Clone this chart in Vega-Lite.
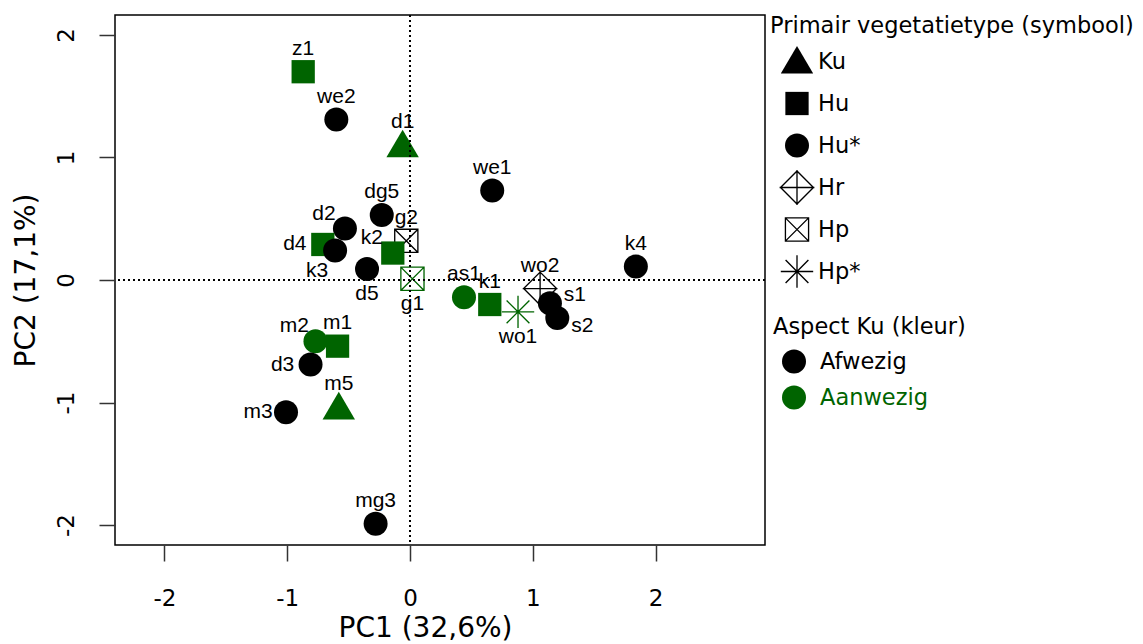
{
  "$schema": "https://vega.github.io/schema/vega-lite/v6.json",
  "width": 650,
  "height": 530,
  "autosize": {"type": "none"},
  "padding": {"left": 115, "top": 15, "right": 378, "bottom": 99},
  "background": "white",
  "config": {
    "view": {"stroke": "black", "strokeWidth": 1.5},
    "axis": {
      "grid": false,
      "domain": false,
      "tickSize": 16,
      "tickColor": "#333333",
      "tickWidth": 1.5,
      "labelFont": "DejaVu Sans",
      "labelFontSize": 23,
      "labelColor": "black",
      "titleFont": "DejaVu Sans",
      "titleFontSize": 28,
      "titleFontWeight": "normal",
      "titleColor": "black"
    },
    "legend": {
      "orient": "none",
      "padding": 0,
      "gridAlign": "all",
      "titleFont": "DejaVu Sans",
      "titleFontSize": 22.5,
      "titleFontWeight": "normal",
      "titleColor": "black",
      "labelFont": "DejaVu Sans",
      "labelFontSize": 22.5,
      "labelColor": "black",
      "symbolSize": 576,
      "symbolOpacity": 1,
      "labelLimit": 400,
      "titleLimit": 500
    }
  },
  "data": {
    "values": [
      {"id": "z1", "pc1": -0.87, "pc2": 1.70, "type": "Hu", "aspect": "Aanwezig", "pos": "top"},
      {"id": "we2", "pc1": -0.60, "pc2": 1.31, "type": "Hu*", "aspect": "Afwezig", "pos": "top"},
      {"id": "d1", "pc1": -0.06, "pc2": 1.10, "type": "Ku", "aspect": "Aanwezig", "pos": "top"},
      {"id": "we1", "pc1": 0.67, "pc2": 0.73, "type": "Hu*", "aspect": "Afwezig", "pos": "top"},
      {"id": "dg5", "pc1": -0.23, "pc2": 0.53, "type": "Hu*", "aspect": "Afwezig", "pos": "top"},
      {"id": "d2", "pc1": -0.53, "pc2": 0.42, "type": "Hu*", "aspect": "Afwezig", "pos": "topleft"},
      {"id": "g2", "pc1": -0.03, "pc2": 0.32, "type": "Hp", "aspect": "Afwezig", "pos": "top"},
      {"id": "d4", "pc1": -0.71, "pc2": 0.29, "type": "Hu", "aspect": "Aanwezig", "pos": "left"},
      {"id": "k3", "pc1": -0.61, "pc2": 0.24, "type": "Hu*", "aspect": "Afwezig", "pos": "bottomleft"},
      {"id": "k2", "pc1": -0.14, "pc2": 0.22, "type": "Hu", "aspect": "Aanwezig", "pos": "topleft"},
      {"id": "d5", "pc1": -0.35, "pc2": 0.09, "type": "Hu*", "aspect": "Afwezig", "pos": "bottom"},
      {"id": "g1", "pc1": 0.02, "pc2": 0.01, "type": "Hp", "aspect": "Aanwezig", "pos": "bottom"},
      {"id": "k4", "pc1": 1.84, "pc2": 0.11, "type": "Hu*", "aspect": "Afwezig", "pos": "top"},
      {"id": "wo2", "pc1": 1.06, "pc2": -0.07, "type": "Hr", "aspect": "Afwezig", "pos": "top"},
      {"id": "as1", "pc1": 0.44, "pc2": -0.14, "type": "Hu*", "aspect": "Aanwezig", "pos": "top"},
      {"id": "k1", "pc1": 0.65, "pc2": -0.20, "type": "Hu", "aspect": "Aanwezig", "pos": "top"},
      {"id": "wo1", "pc1": 0.88, "pc2": -0.26, "type": "Hp*", "aspect": "Aanwezig", "pos": "bottom"},
      {"id": "s1", "pc1": 1.14, "pc2": -0.19, "type": "Hu*", "aspect": "Afwezig", "pos": "topright"},
      {"id": "s2", "pc1": 1.20, "pc2": -0.31, "type": "Hu*", "aspect": "Afwezig", "pos": "bottomright"},
      {"id": "m2", "pc1": -0.77, "pc2": -0.50, "type": "Hu*", "aspect": "Aanwezig", "pos": "topleft"},
      {"id": "m1", "pc1": -0.59, "pc2": -0.54, "type": "Hu", "aspect": "Aanwezig", "pos": "top"},
      {"id": "d3", "pc1": -0.81, "pc2": -0.69, "type": "Hu*", "aspect": "Afwezig", "pos": "left"},
      {"id": "m5", "pc1": -0.58, "pc2": -1.04, "type": "Ku", "aspect": "Aanwezig", "pos": "top"},
      {"id": "m3", "pc1": -1.01, "pc2": -1.08, "type": "Hu*", "aspect": "Afwezig", "pos": "left"},
      {"id": "mg3", "pc1": -0.28, "pc2": -1.99, "type": "Hu*", "aspect": "Afwezig", "pos": "top"}
    ]
  },
  "encoding": {
    "x": {
      "field": "pc1", "type": "quantitative",
      "scale": {"domain": [-2.403, 2.892], "nice": false, "zero": false},
      "axis": {"title": "PC1 (32,6%)", "values": [-2, -1, 0, 1, 2], "labelExpr": "datum.value + ''", "labelPadding": 26, "titlePadding": 4, "titleX": 310}
    },
    "y": {
      "field": "pc2", "type": "quantitative",
      "scale": {"domain": [-2.163, 2.163], "nice": false, "zero": false},
      "axis": {"title": "PC2 (17,1%)", "values": [-2, -1, 0, 1, 2], "labelExpr": "datum.value + ''", "labelAngle": -90, "labelAlign": "center", "labelBaseline": "bottom", "labelPadding": 21, "titleX": -75}
    }
  },
  "layer": [
    {
      "mark": {"type": "point", "filled": true, "opacity": 1, "size": 576, "strokeWidth": 0},
      "encoding": {
        "shape": {
          "field": "type", "type": "nominal",
          "scale": {
            "domain": ["Ku", "Hu", "Hu*", "Hr", "Hp", "Hp*"],
            "range": [
              "M0,-1.3L1.35,1.0L-1.35,1.0Z",
              "M-0.97,-0.97H0.97V0.97H-0.97Z",
              "circle",
              "M0,-1.45L1.45,0L0,1.45L-1.45,0ZM0,-1.29L-1.29,0L0,1.29L1.29,0ZM-0.055,-1.45H0.055V1.45H-0.055ZM-1.45,-0.055H1.45V0.055H-1.45Z",
              "M-1.02,-1.02H1.02V1.02H-1.02ZM-0.91,-0.91V0.91H0.91V-0.91ZM-0.93,-1.01L1.01,0.93L0.93,1.01L-1.01,-0.93ZM1.01,-0.93L-0.93,1.01L-1.01,0.93L0.93,-1.01Z",
              "M-0.055,-1.35H0.055V1.35H-0.055ZM-1.35,-0.055H1.35V0.055H-1.35ZM-0.91,-0.99L0.99,0.91L0.91,0.99L-0.99,-0.91ZM0.99,-0.91L-0.91,0.99L-0.99,0.91L0.91,-0.99Z"
            ]
          },
          "legend": {
            "title": "Primair vegetatietype (symbool)",
            "legendX": 655, "legendY": 0,
            "rowPadding": 6,
            "titlePadding": 12,
            "symbolOffset": 15,
            "labelOffset": 9,
            "symbolFillColor": "black",
            "symbolStrokeWidth": 0
          }
        },
        "color": {
          "field": "aspect", "type": "nominal",
          "scale": {"domain": ["Afwezig", "Aanwezig"], "range": ["black", "#006400"]},
          "legend": {
            "title": "Aspect Ku (kleur)",
            "legendX": 658, "legendY": 301,
            "rowPadding": 11,
            "titlePadding": 10,
            "symbolOffset": 8,
            "labelOffset": 13,
            "symbolType": "circle",
            "encode": {
              "labels": {
                "update": {
                  "fill": {"scale": "color", "field": "value"}
                }
              }
            }
          }
        }
      }
    },
    {
      "mark": {"type": "rule", "color": "black", "strokeDash": [2, 3], "strokeWidth": 1.2},
      "encoding": {"x": {"datum": 0}, "y": null}
    },
    {
      "mark": {"type": "rule", "color": "black", "strokeDash": [2, 3], "strokeWidth": 1.2},
      "encoding": {"y": {"datum": 0}, "x": null}
    },
    {
      "transform": [{"filter": "datum.pos == 'top'"}],
      "mark": {"type": "text", "font": "Liberation Sans", "fontSize": 21, "color": "black", "dy": -23},
      "encoding": {"text": {"field": "id"}}
    },
    {
      "transform": [{"filter": "datum.pos == 'bottom'"}],
      "mark": {"type": "text", "font": "Liberation Sans", "fontSize": 21, "color": "black", "dy": 25},
      "encoding": {"text": {"field": "id"}}
    },
    {
      "transform": [{"filter": "datum.pos == 'left'"}],
      "mark": {"type": "text", "font": "Liberation Sans", "fontSize": 21, "color": "black", "dx": -28},
      "encoding": {"text": {"field": "id"}}
    },
    {
      "transform": [{"filter": "datum.pos == 'topleft'"}],
      "mark": {"type": "text", "font": "Liberation Sans", "fontSize": 21, "color": "black", "dx": -21, "dy": -15},
      "encoding": {"text": {"field": "id"}}
    },
    {
      "transform": [{"filter": "datum.pos == 'bottomleft'"}],
      "mark": {"type": "text", "font": "Liberation Sans", "fontSize": 21, "color": "black", "dx": -18, "dy": 20},
      "encoding": {"text": {"field": "id"}}
    },
    {
      "transform": [{"filter": "datum.pos == 'topright'"}],
      "mark": {"type": "text", "font": "Liberation Sans", "fontSize": 21, "color": "black", "dx": 25, "dy": -8},
      "encoding": {"text": {"field": "id"}}
    },
    {
      "transform": [{"filter": "datum.pos == 'bottomright'"}],
      "mark": {"type": "text", "font": "Liberation Sans", "fontSize": 21, "color": "black", "dx": 25, "dy": 8},
      "encoding": {"text": {"field": "id"}}
    }
  ]
}
